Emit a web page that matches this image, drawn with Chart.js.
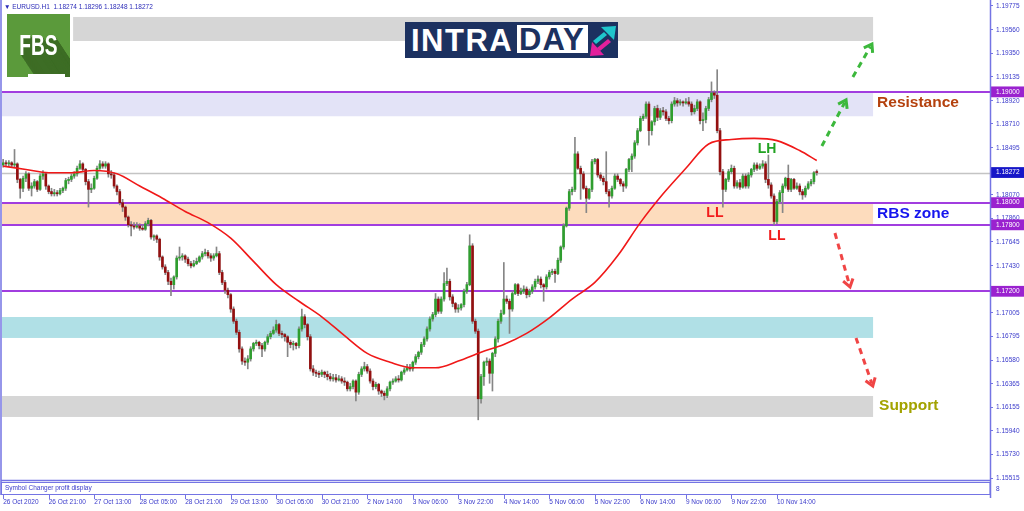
<!DOCTYPE html>
<html>
<head>
<meta charset="utf-8">
<title>EURUSD H1 intraday</title>
<script src="https://cdn.jsdelivr.net/npm/chart.js@4.4.1/dist/chart.umd.min.js"></script>
<style>
  html, body { margin: 0; padding: 0; background: #fff; }
  #wrap { position: relative; width: 1024px; height: 511px; overflow: hidden; }
  #c { position: absolute; left: 0; top: 0; }
  .hdr { position: absolute; left: 4px; top: 3px; font: 6.5px "Liberation Sans", Arial, sans-serif; color: #2b2bb8; white-space: pre; }
  #fbs { position: absolute; left: 7px; top: 14px; width: 63px; height: 63px; background: #5b9a3b; overflow: hidden; }
  #fbs .t { position: absolute; left: -10px; top: 17px; width: 83px; text-align: center; color: #fff;
            font: bold 29px "Liberation Sans", Arial, sans-serif; transform: scaleX(0.66); line-height: 29px; }
  #fbs .u { position: absolute; left: 21px; top: 60px; width: 37px; height: 3px; background: #fff; }
  #intraday { position: absolute; left: 405px; top: 22px; width: 213px; height: 36px; background: #1c3160; }
  #intraday .a { position: absolute; left: 6px; top: 2px; color: #fff; font: bold 31px "Liberation Sans", Arial, sans-serif; letter-spacing: 1.5px; line-height: 33px; }
  #intraday .b { position: absolute; left: 112px; top: 3px; width: 71px; height: 28px; background: #fff; }
  #intraday .b span { position: absolute; left: 2px; top: -1px; color: #1c3160; font: bold 31px "Liberation Sans", Arial, sans-serif; letter-spacing: 1px; line-height: 31px; }
  #intraday svg { position: absolute; left: 184px; top: 2px; }
</style>
</head>
<body>
<div id="wrap">
  <canvas id="c" width="1024" height="511"></canvas>
  <div class="hdr">▼ EURUSD.H1  1.18274 1.18296 1.18248 1.18272</div>
  <div id="fbs"><div class="t" id="fbsText">FBS</div><div class="u"></div></div>
  <div id="intraday">
    <div class="a">INTRA</div>
    <div class="b"><span>DAY</span></div>
    <svg width="30" height="34" viewBox="0 0 30 34">
      <polygon points="4,17 15,8 18,11 7,20" fill="#1fc6cc"/>
      <polygon points="12,3 27,2 25,16" fill="#1fc6cc"/>
      <polygon points="22,18 11,27 8,24 19,15" fill="#e3209c"/>
      <polygon points="15,31 1,32 3,18" fill="#e3209c"/>
    </svg>
  </div>
</div>
<script>
// EURUSD H1, 26 Oct - 11 Nov 2020 (one bar per hour)
var opens = [
  1.1834,1.1836,1.1835,1.1836,1.1834,1.1835,1.1821,1.1813,1.1822,1.1826,
  1.1813,1.1815,1.1819,1.1812,1.1824,1.1826,1.1815,1.1810,1.1808,1.1809,
  1.1808,1.1811,1.1813,1.1820,1.1821,1.1824,1.1826,1.1831,1.1835,1.1830,
  1.1819,1.1812,1.1813,1.1822,1.1831,1.1835,1.1833,1.1835,1.1826,1.1825,
  1.1815,1.1810,1.1800,1.1796,1.1787,1.1780,1.1779,1.1778,1.1779,1.1777,
  1.1776,1.1781,1.1784,1.1769,1.1770,1.1767,1.1751,1.1742,1.1737,1.1729,
  1.1726,1.1733,1.1750,1.1751,1.1752,1.1749,1.1745,1.1743,1.1745,1.1747,
  1.1751,1.1754,1.1755,1.1752,1.1750,1.1752,1.1754,1.1737,1.1728,1.1721,
  1.1717,1.1704,1.1693,1.1683,1.1668,1.1657,1.1656,1.1659,1.1668,1.1673,
  1.1674,1.1671,1.1668,1.1674,1.1679,1.1682,1.1685,1.1690,1.1682,1.1681,
  1.1679,1.1674,1.1672,1.1673,1.1671,1.1686,1.1697,1.1690,1.1679,1.1650,
  1.1647,1.1646,1.1645,1.1647,1.1645,1.1643,1.1641,1.1642,1.1640,1.1641,
  1.1639,1.1638,1.1632,1.1634,1.1639,1.1629,1.1645,1.1650,1.1652,1.1648,
  1.1639,1.1634,1.1636,1.1630,1.1628,1.1626,1.1632,1.1638,1.1639,1.1641,
  1.1640,1.1647,1.1649,1.1651,1.1650,1.1656,1.1661,1.1665,1.1672,1.1677,
  1.1686,1.1695,1.1699,1.1713,1.1702,1.1713,1.1727,1.1729,1.1715,1.1709,
  1.1704,1.1705,1.1708,1.1720,1.1726,1.1761,1.1693,1.1684,1.1623,1.1643,
  1.1656,1.1657,1.1646,1.1664,1.1677,1.1693,1.1700,1.1713,1.1711,1.1704,
  1.1718,1.1726,1.1718,1.1720,1.1722,1.1717,1.1720,1.1724,1.1729,1.1731,
  1.1726,1.1724,1.1733,1.1737,1.1738,1.1736,1.1748,1.1760,1.1779,1.1795,
  1.1810,1.1812,1.1844,1.1831,1.1826,1.1813,1.1804,1.1812,1.1837,1.1839,
  1.1825,1.1822,1.1819,1.1810,1.1806,1.1813,1.1824,1.1821,1.1817,1.1815,
  1.1830,1.1839,1.1842,1.1854,1.1865,1.1876,1.1878,1.1889,1.1865,1.1873,
  1.1885,1.1877,1.1883,1.1882,1.1876,1.1874,1.1889,1.1892,1.1890,1.1891,
  1.1890,1.1891,1.1889,1.1882,1.1885,1.1891,1.1874,1.1875,1.1885,1.1893,
  1.1899,1.1897,1.1865,1.1828,1.1812,1.1821,1.1828,1.1831,1.1815,1.1818,
  1.1814,1.1824,1.1815,1.1825,1.1830,1.1834,1.1831,1.1833,1.1835,1.1821,
  1.1816,1.1806,1.1783,1.1801,1.1809,1.1815,1.1822,1.1812,1.1821,1.1813,
  1.1815,1.1810,1.1807,1.1813,1.1817,1.1819,1.18274
];
var highs = [
  1.1839,1.1838,1.1838,1.1837,1.1848,1.1836,1.1822,1.1824,1.1828,1.1827,
  1.1818,1.1821,1.1820,1.1826,1.1829,1.1827,1.1816,1.1813,1.1812,1.1811,
  1.1813,1.1814,1.1822,1.1823,1.1826,1.1828,1.1833,1.1838,1.1836,1.1831,
  1.1821,1.1817,1.1824,1.1833,1.1838,1.1837,1.1837,1.1836,1.1829,1.1827,
  1.1816,1.1812,1.1803,1.1797,1.1788,1.1783,1.1782,1.1782,1.1781,1.1780,
  1.1783,1.1786,1.1785,1.1771,1.1771,1.1768,1.1752,1.1744,1.1739,1.1732,
  1.1734,1.1752,1.1760,1.1754,1.1753,1.1751,1.1747,1.1748,1.1750,1.1752,
  1.1756,1.1758,1.1757,1.1754,1.1754,1.1760,1.1756,1.1739,1.1730,1.1723,
  1.1718,1.1706,1.1695,1.1685,1.1670,1.1660,1.1662,1.1670,1.1674,1.1676,
  1.1675,1.1673,1.1675,1.1681,1.1684,1.1688,1.1694,1.1691,1.1684,1.1682,
  1.1680,1.1676,1.1675,1.1674,1.1688,1.1704,1.1699,1.1691,1.1681,1.1653,
  1.1649,1.1648,1.1649,1.1648,1.1648,1.1646,1.1645,1.1645,1.1644,1.1643,
  1.1642,1.1639,1.1637,1.1640,1.1640,1.1647,1.1652,1.1656,1.1654,1.1650,
  1.1641,1.1638,1.1637,1.1631,1.1630,1.1634,1.1639,1.1641,1.1643,1.1644,
  1.1648,1.1651,1.1654,1.1654,1.1657,1.1663,1.1666,1.1674,1.1679,1.1688,
  1.1697,1.1701,1.1718,1.1715,1.1715,1.1737,1.1741,1.1731,1.1717,1.1710,
  1.1708,1.1709,1.1722,1.1728,1.1771,1.1763,1.1695,1.1686,1.1645,1.1657,
  1.1660,1.1659,1.1665,1.1679,1.1695,1.1703,1.1746,1.1716,1.1713,1.1720,
  1.1727,1.1727,1.1723,1.1725,1.1724,1.1722,1.1726,1.1731,1.1734,1.1733,
  1.1727,1.1735,1.1739,1.1740,1.1740,1.1750,1.1761,1.1781,1.1796,1.1812,
  1.1814,1.1859,1.1846,1.1833,1.1828,1.1815,1.1813,1.1839,1.1840,1.1840,
  1.1827,1.1824,1.1846,1.1812,1.1815,1.1826,1.1826,1.1822,1.1819,1.1831,
  1.1840,1.1844,1.1856,1.1867,1.1878,1.1880,1.1891,1.1891,1.1874,1.1887,
  1.1888,1.1885,1.1886,1.1884,1.1878,1.1891,1.1895,1.1894,1.1893,1.1892,
  1.1894,1.1895,1.1891,1.1888,1.1893,1.1892,1.1881,1.1887,1.1895,1.1909,
  1.1901,1.1920,1.1867,1.1830,1.1822,1.1830,1.1834,1.1833,1.1820,1.1821,
  1.1826,1.1826,1.1827,1.1831,1.1836,1.1836,1.1835,1.1838,1.1837,1.1843,
  1.1818,1.1808,1.1803,1.1811,1.1817,1.1823,1.1834,1.1822,1.1822,1.1818,
  1.1817,1.1812,1.1815,1.1819,1.1821,1.1828,1.18296
];
var lows = [
  1.1832,1.1833,1.1833,1.1832,1.1832,1.1818,1.1804,1.1810,1.1819,1.1811,
  1.1806,1.1813,1.1810,1.1811,1.1821,1.1812,1.1808,1.1806,1.1806,1.1806,
  1.1807,1.1809,1.1811,1.1817,1.1819,1.1822,1.1824,1.1830,1.1828,1.1816,
  1.1796,1.1809,1.1812,1.1821,1.1830,1.1831,1.1831,1.1823,1.1822,1.1813,
  1.1807,1.1798,1.1792,1.1784,1.1778,1.1770,1.1776,1.1777,1.1775,1.1775,
  1.1775,1.1779,1.1767,1.1766,1.1764,1.1748,1.1740,1.1735,1.1726,1.1716,
  1.1722,1.1731,1.1748,1.1748,1.1746,1.1743,1.1741,1.1742,1.1744,1.1746,
  1.1749,1.1752,1.1750,1.1747,1.1748,1.1751,1.1735,1.1726,1.1718,1.1714,
  1.1701,1.1691,1.1681,1.1665,1.1654,1.1653,1.1650,1.1657,1.1666,1.1671,
  1.1668,1.1661,1.1666,1.1672,1.1677,1.1681,1.1683,1.1680,1.1678,1.1675,
  1.1661,1.1669,1.1667,1.1668,1.1669,1.1684,1.1687,1.1676,1.1648,1.1644,
  1.1643,1.1642,1.1643,1.1642,1.1640,1.1639,1.1639,1.1638,1.1639,1.1637,
  1.1635,1.1630,1.1630,1.1632,1.1621,1.1627,1.1643,1.1648,1.1646,1.1637,
  1.1631,1.1632,1.1627,1.1625,1.1622,1.1624,1.1630,1.1636,1.1638,1.1638,
  1.1639,1.1645,1.1648,1.1648,1.1648,1.1654,1.1659,1.1663,1.1670,1.1675,
  1.1684,1.1693,1.1697,1.1700,1.1700,1.1711,1.1725,1.1712,1.1706,1.1701,
  1.1701,1.1703,1.1706,1.1718,1.1725,1.1691,1.1682,1.1604,1.1619,1.1635,
  1.1653,1.1637,1.1630,1.1661,1.1674,1.1691,1.1699,1.1709,1.1682,1.1702,
  1.1717,1.1716,1.1717,1.1718,1.1714,1.1715,1.1718,1.1722,1.1727,1.1723,
  1.1711,1.1722,1.1731,1.1735,1.1728,1.1735,1.1746,1.1758,1.1778,1.1793,
  1.1807,1.1810,1.1830,1.1803,1.1812,1.1791,1.1803,1.1810,1.1835,1.1823,
  1.1820,1.1816,1.1808,1.1796,1.1804,1.1812,1.1819,1.1815,1.1810,1.1813,
  1.1828,1.1828,1.1840,1.1852,1.1864,1.1874,1.1876,1.1852,1.1861,1.1870,
  1.1874,1.1875,1.1879,1.1874,1.1871,1.1872,1.1887,1.1887,1.1888,1.1887,
  1.1889,1.1887,1.1879,1.1880,1.1883,1.1871,1.1865,1.1872,1.1883,1.1891,
  1.1894,1.1863,1.1825,1.1796,1.1810,1.1819,1.1826,1.1813,1.1813,1.1812,
  1.1813,1.1813,1.1813,1.1823,1.1828,1.1829,1.1830,1.1831,1.1818,1.1813,
  1.1804,1.1780,1.1781,1.1799,1.1791,1.1813,1.1810,1.1810,1.1812,1.1812,
  1.1807,1.1803,1.1805,1.1812,1.1815,1.1817,1.18248
];
var closes = [
  1.1836,1.1835,1.1836,1.1834,1.1835,1.1821,1.1813,1.1822,1.1826,1.1813,
  1.1815,1.1819,1.1812,1.1824,1.1826,1.1815,1.1810,1.1808,1.1809,1.1808,
  1.1811,1.1813,1.1820,1.1821,1.1824,1.1826,1.1831,1.1835,1.1830,1.1819,
  1.1812,1.1813,1.1822,1.1831,1.1835,1.1833,1.1835,1.1826,1.1825,1.1815,
  1.1810,1.1800,1.1796,1.1787,1.1780,1.1779,1.1778,1.1779,1.1777,1.1776,
  1.1781,1.1784,1.1769,1.1770,1.1767,1.1751,1.1742,1.1737,1.1729,1.1726,
  1.1733,1.1750,1.1751,1.1752,1.1749,1.1745,1.1743,1.1745,1.1747,1.1751,
  1.1754,1.1755,1.1752,1.1750,1.1752,1.1754,1.1737,1.1728,1.1721,1.1717,
  1.1704,1.1693,1.1683,1.1668,1.1657,1.1656,1.1659,1.1668,1.1673,1.1674,
  1.1671,1.1668,1.1674,1.1679,1.1682,1.1685,1.1690,1.1682,1.1681,1.1679,
  1.1674,1.1672,1.1673,1.1671,1.1686,1.1697,1.1690,1.1679,1.1650,1.1647,
  1.1646,1.1645,1.1647,1.1645,1.1643,1.1641,1.1642,1.1640,1.1641,1.1639,
  1.1638,1.1632,1.1634,1.1639,1.1629,1.1645,1.1650,1.1652,1.1648,1.1639,
  1.1634,1.1636,1.1630,1.1628,1.1626,1.1632,1.1638,1.1639,1.1641,1.1640,
  1.1647,1.1649,1.1651,1.1650,1.1656,1.1661,1.1665,1.1672,1.1677,1.1686,
  1.1695,1.1699,1.1713,1.1702,1.1713,1.1727,1.1729,1.1715,1.1709,1.1704,
  1.1705,1.1708,1.1720,1.1726,1.1761,1.1693,1.1684,1.1623,1.1643,1.1656,
  1.1657,1.1646,1.1664,1.1677,1.1693,1.1700,1.1713,1.1711,1.1704,1.1718,
  1.1726,1.1718,1.1720,1.1722,1.1717,1.1720,1.1724,1.1729,1.1731,1.1726,
  1.1724,1.1733,1.1737,1.1738,1.1736,1.1748,1.1760,1.1779,1.1795,1.1810,
  1.1812,1.1844,1.1831,1.1826,1.1813,1.1804,1.1812,1.1837,1.1839,1.1825,
  1.1822,1.1819,1.1810,1.1806,1.1813,1.1824,1.1821,1.1817,1.1815,1.1830,
  1.1839,1.1842,1.1854,1.1865,1.1876,1.1878,1.1889,1.1865,1.1873,1.1885,
  1.1877,1.1883,1.1882,1.1876,1.1874,1.1889,1.1892,1.1890,1.1891,1.1890,
  1.1891,1.1889,1.1882,1.1885,1.1891,1.1874,1.1875,1.1885,1.1893,1.1899,
  1.1897,1.1865,1.1828,1.1812,1.1821,1.1828,1.1831,1.1815,1.1818,1.1814,
  1.1824,1.1815,1.1825,1.1830,1.1834,1.1831,1.1833,1.1835,1.1821,1.1816,
  1.1806,1.1783,1.1801,1.1809,1.1815,1.1822,1.1812,1.1821,1.1813,1.1815,
  1.1810,1.1807,1.1813,1.1817,1.1819,1.1827,1.18272
];

// red moving average, read every 8 bars
var maBars = [0,8,16,24,32,40,48,56,64,72,80,88,96,104,112,120,128,136,144,152,
  160,168,176,184,192,200,208,216,224,232,240,248,256,264,272,280,286];
var maValues = [1.1833,1.1830,1.1827,1.1827,1.1829,1.1826,1.1815,1.1804,1.1792,1.1782,
  1.1768,1.1747,1.1726,1.1711,1.1697,1.1680,1.1664,1.1656,1.1651,1.1651,
  1.1657,1.1665,1.1672,1.1682,1.1696,1.1713,1.1728,1.1752,1.1782,1.1808,
  1.1831,1.1853,1.1857,1.1858,1.1856,1.1847,1.1838];

var xTickBars = [0,16,32,48,64,80,96,112,128,144,160,176,192,208,224,240,256,272];
var xTickLabels = ['26 Oct 2020','26 Oct 21:00','27 Oct 13:00','28 Oct 05:00','28 Oct 21:00',
  '29 Oct 13:00','30 Oct 05:00','30 Oct 21:00','2 Nov 14:00','3 Nov 06:00','3 Nov 22:00',
  '4 Nov 14:00','5 Nov 06:00','5 Nov 22:00','6 Nov 14:00','9 Nov 06:00','9 Nov 22:00','10 Nov 14:00'];

var yTickValues = [1.19775,1.19560,1.19350,1.19135,1.18920,1.18710,1.18495,1.18070,1.17860,
  1.17645,1.17430,1.17005,1.16795,1.16580,1.16365,1.16155,1.15940,1.15730,1.15515];
var markedLevels = [1.19000,1.18000,1.17800,1.17200];
var bidPrice = 1.18272;

// zones: bar range and price range
var zoneFrom = [24.6,-1,-1,-1,-1];
var zoneTo = [305.8,305.8,305.8,305.8,305.8];
var zoneHigh = [1.19676,1.19000,1.18000,1.16968,1.16255];
var zoneLow = [1.19459,1.18780,1.17800,1.16779,1.16066];
var zoneColors = ['#d6d6d6','#e3e3f7','#fddcbd','#b0e0e6','#d6d6d6'];

var noteTexts = ['Resistance','RBS zone','Support','LH','LL','LL'];
var noteBars = [307.2,307.2,307.9,268.5,250.2,272.0];
var notePrices = [1.18900,1.17898,1.16165,1.18484,1.17907,1.17699];
var noteColors = ['#b4410d','#1515ee','#a3a300','#22a322','#f21c1c','#f21c1c'];
var noteSizes = [15.5,15.5,15.5,14,14,14];

var arrowFromBar = [287.8,298.7,292.4,299.8];
var arrowFromPrice = [1.18511,1.19134,1.17726,1.16779];
var arrowToBar = [296.3,305.4,297.7,305.7];
var arrowToPrice = [1.18927,1.19432,1.17239,1.16345];
var arrowColors = ['#3cb83c','#3cb83c','#f04545','#f04545'];

var BULL = '#2f9e2f', BEAR = '#931010', WICK = '#868686';
var FRAME = '#7474e4', AXIS_TEXT = '#3a3acb', LEVEL = '#a13ddf';
var FONT = '"Liberation Sans", Arial, sans-serif';

// long shadow on the FBS logo
(function() {
  var s = [];
  for (var k = 1; k <= 30; k++) s.push(k + 'px ' + k + 'px 0 #3d6d25');
  document.getElementById('fbsText').style.textShadow = s.join(',');
})();

var wickData = [], bodyData = [], bodyColors = [];
opens.forEach(function(o, i) {
  wickData.push({ x: i, y: [lows[i], highs[i]] });
  bodyData.push({ x: i, y: [o, closes[i]] });
  bodyColors.push(closes[i] >= o ? BULL : BEAR);
});
var maData = maBars.map(function(b, k) { return { x: b, y: maValues[k] }; });

function isMarked(v) {
  return markedLevels.indexOf(v) >= 0 || v === bidPrice;
}

var zonesPlugin = {
  id: 'zones',
  beforeDatasetsDraw: function(chart) {
    var ctx = chart.ctx, xs = chart.scales.x, ys = chart.scales.y, a = chart.chartArea;
    ctx.save();
    ctx.beginPath();
    ctx.rect(a.left, a.top, a.right - a.left, a.bottom - a.top);
    ctx.clip();
    zoneHigh.forEach(function(h, k) {
      var x0 = Math.max(a.left, xs.getPixelForValue(zoneFrom[k]));
      var x1 = xs.getPixelForValue(zoneTo[k]);
      var y0 = ys.getPixelForValue(h), y1 = ys.getPixelForValue(zoneLow[k]);
      ctx.fillStyle = zoneColors[k];
      ctx.fillRect(x0, y0, x1 - x0, y1 - y0);
    });
    var yb = Math.round(ys.getPixelForValue(bidPrice)) + 0.5;
    ctx.strokeStyle = '#c4c4c4';
    ctx.lineWidth = 1.5;
    ctx.beginPath(); ctx.moveTo(a.left, yb); ctx.lineTo(a.right, yb); ctx.stroke();
    ctx.strokeStyle = LEVEL;
    ctx.lineWidth = 2;
    markedLevels.forEach(function(v) {
      var y = Math.round(ys.getPixelForValue(v));
      ctx.beginPath(); ctx.moveTo(a.left, y); ctx.lineTo(a.right, y); ctx.stroke();
    });
    ctx.restore();
  },
  afterDatasetsDraw: function(chart) {
    var ctx = chart.ctx, xs = chart.scales.x, ys = chart.scales.y;
    ctx.save();
    arrowFromBar.forEach(function(b, k) {
      var x0 = xs.getPixelForValue(b), y0 = ys.getPixelForValue(arrowFromPrice[k]);
      var x1 = xs.getPixelForValue(arrowToBar[k]), y1 = ys.getPixelForValue(arrowToPrice[k]);
      var ang = Math.atan2(y1 - y0, x1 - x0);
      ctx.strokeStyle = arrowColors[k];
      ctx.lineWidth = 3;
      ctx.setLineDash([6, 5]);
      ctx.beginPath(); ctx.moveTo(x0, y0);
      ctx.lineTo(x1 - 3 * Math.cos(ang), y1 - 3 * Math.sin(ang)); ctx.stroke();
      ctx.setLineDash([]);
      ctx.beginPath();
      ctx.moveTo(x1 - 9 * Math.cos(ang - 0.6), y1 - 9 * Math.sin(ang - 0.6));
      ctx.lineTo(x1, y1);
      ctx.lineTo(x1 - 9 * Math.cos(ang + 0.6), y1 - 9 * Math.sin(ang + 0.6));
      ctx.stroke();
    });
    ctx.textBaseline = 'middle';
    noteTexts.forEach(function(t, k) {
      ctx.font = 'bold ' + noteSizes[k] + 'px ' + FONT;
      ctx.fillStyle = noteColors[k];
      ctx.textAlign = k < 3 ? 'left' : 'center';
      ctx.fillText(t, xs.getPixelForValue(noteBars[k]), ys.getPixelForValue(notePrices[k]));
    });
    ctx.restore();
  },
  afterDraw: function(chart) {
    var ctx = chart.ctx, xs = chart.scales.x, a = chart.chartArea;
    ctx.save();
    ctx.strokeStyle = FRAME;
    ctx.lineWidth = 1.5;
    ctx.beginPath();
    ctx.moveTo(1, 0); ctx.lineTo(1, 495);
    ctx.moveTo(1, a.bottom + 0.5); ctx.lineTo(a.right, a.bottom + 0.5);
    ctx.moveTo(a.right + 0.5, 0); ctx.lineTo(a.right + 0.5, 498);
    ctx.stroke();
    ctx.lineWidth = 1;
    ctx.strokeRect(1.5, a.bottom + 2.5, a.right - 1.5, 12);
    ctx.beginPath();
    xs.ticks.forEach(function(t) {
      var x = Math.round(xs.getPixelForValue(t.value)) + 0.5;
      ctx.moveTo(x, 495); ctx.lineTo(x, 499);
    });
    ctx.stroke();
    ctx.fillStyle = AXIS_TEXT;
    ctx.font = '6.5px ' + FONT;
    ctx.textBaseline = 'middle';
    ctx.textAlign = 'left';
    ctx.fillText('Symbol Changer profit display', 5, a.bottom + 8.5);
    ctx.fillText('8', a.right + 6, a.bottom + 9);
    ctx.restore();
  }
};

Chart.defaults.font.family = FONT;

new Chart(document.getElementById('c'), {
  type: 'bar',
  data: {
    datasets: [
      {
        type: 'line',
        data: maData,
        borderColor: '#f01818',
        borderWidth: 1.6,
        pointRadius: 0,
        cubicInterpolationMode: 'monotone',
        order: 0
      },
      {
        data: bodyData,
        backgroundColor: bodyColors,
        barThickness: 2,
        minBarLength: 1,
        grouped: false,
        order: 1
      },
      {
        data: wickData,
        backgroundColor: WICK,
        barThickness: 1,
        grouped: false,
        order: 2
      }
    ]
  },
  options: {
    responsive: false,
    animation: false,
    events: [],
    layout: { padding: { left: 2, top: 2, right: 0, bottom: 0 }, autoPadding: false },
    plugins: { legend: { display: false }, tooltip: { enabled: false } },
    scales: {
      x: {
        type: 'linear',
        offset: false,
        min: -0.4,
        max: 346.9,
        grid: { display: false, drawTicks: false },
        border: { display: false },
        afterFit: function(s) {
          s.height = 31;
          s.paddingLeft = 0;
          s.paddingRight = 0;
        },
        afterBuildTicks: function(s) {
          s.ticks = xTickBars.map(function(b) { return { value: b }; });
        },
        ticks: {
          autoSkip: false,
          maxRotation: 0,
          align: 'start',
          padding: 18,
          color: AXIS_TEXT,
          font: { size: 6.5 },
          callback: function(v, i) { return xTickLabels[i]; }
        }
      },
      y: {
        type: 'linear',
        position: 'right',
        min: 1.15497,
        max: 1.19811,
        grid: { drawOnChartArea: false, drawTicks: true, tickLength: 3, color: FRAME },
        border: { display: true, color: FRAME },
        afterFit: function(s) {
          s.width = 34;
          s.paddingTop = 0;
          s.paddingBottom = 0;
        },
        afterBuildTicks: function(s) {
          s.ticks = yTickValues.concat(markedLevels, [bidPrice]).map(function(v) { return { value: v }; });
        },
        ticks: {
          autoSkip: false,
          padding: 3,
          font: { size: 6.5 },
          color: function(c) { return c.tick && isMarked(c.tick.value) ? '#ffffff' : AXIS_TEXT; },
          showLabelBackdrop: true,
          backdropPadding: { left: 5, right: 6, top: 1.5, bottom: 1.5 },
          backdropColor: function(c) {
            if (!c.tick) return 'rgba(0,0,0,0)';
            if (c.tick.value === bidPrice) return '#1616c8';
            return markedLevels.indexOf(c.tick.value) >= 0 ? '#9a22cf' : 'rgba(0,0,0,0)';
          },
          callback: function(v) { return v.toFixed(5); }
        }
      }
    }
  },
  plugins: [zonesPlugin]
});
</script>
</body>
</html>
